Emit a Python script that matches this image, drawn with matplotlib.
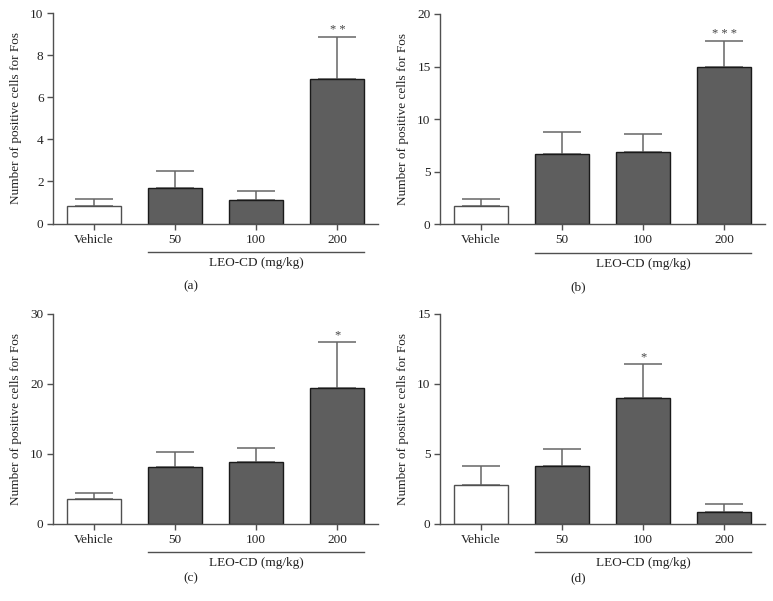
import matplotlib

matplotlib.use("Agg")
import matplotlib.pyplot as plt
import matplotlib.transforms as mtransforms

plt.rcParams["font.family"] = ["Liberation Serif", "DejaVu Serif"]

groups = ["Vehicle", "50", "100", "200"]

means_a = [0.85, 1.71, 1.12, 6.87]
tops_a = [1.19, 2.48, 1.55, 8.88]
means_b = [1.77, 6.72, 6.91, 14.99]
tops_b = [2.44, 8.78, 8.59, 17.46]
means_c = [3.57, 8.10, 8.86, 19.43]
tops_c = [4.38, 10.24, 10.90, 25.95]
means_d = [2.80, 4.16, 8.98, 0.86]
tops_d = [4.14, 5.32, 11.39, 1.40]

stars_a = ["", "", "", "**"]
stars_b = ["", "", "", "***"]
stars_c = ["", "", "", "*"]
stars_d = ["", "", "*", ""]

ymax = [10, 20, 30, 15]
yticks = [[0, 2, 4, 6, 8, 10], [0, 5, 10, 15, 20], [0, 10, 20, 30], [0, 5, 10, 15]]
panel_labels = ["(a)", "(b)", "(c)", "(d)"]
dose_label = "LEO-CD (mg/kg)"
ylabel = "Number of positive cells for Fos"

DARK = "#5e5e5e"
AXC = "#505050"
ERRC = "#666666"
FS = 9.5

fig = plt.figure(figsize=(7.73, 6.01), dpi=100)
rects = [
    [0.0686, 0.628, 0.4204, 0.3503],
    [0.5692, 0.6268, 0.4204, 0.3500],
    [0.0686, 0.1286, 0.4204, 0.3490],
    [0.5692, 0.1286, 0.4204, 0.3490],
]
panels = [
    (means_a, tops_a, stars_a),
    (means_b, tops_b, stars_b),
    (means_c, tops_c, stars_c),
    (means_d, tops_d, stars_d),
]
label_y = [-0.30, -0.30, -0.26, -0.26]

for i, (means, tops, stars) in enumerate(panels):
    ax = fig.add_axes(rects[i])
    xs = list(range(len(groups)))
    errs = [t - m for t, m in zip(tops, means)]
    ax.errorbar(xs, means, yerr=[[0] * 4, errs], fmt="none", ecolor=ERRC,
                elinewidth=1.1, capsize=14, capthick=1.1, zorder=1)
    fills = ["white", DARK, DARK, DARK]
    edges = [AXC, "#1a1a1a", "#1a1a1a", "#1a1a1a"]
    ax.bar(xs, means, width=0.665, color=fills, edgecolor=edges,
           linewidth=1.0, zorder=2)
    for x, t, s in zip(xs, tops, stars):
        if s:
            ax.text(x, t + ymax[i] * 0.003, " ".join(s), ha="center",
                    va="bottom", fontsize=9, color="#444444")

    ax.set_xlim(-0.5, 3.5)
    ax.set_ylim(0, ymax[i])
    ax.set_yticks(yticks[i])
    ax.set_xticks(xs)
    ax.set_xticklabels(groups)
    for side in ("top", "right"):
        ax.spines[side].set_visible(False)
    for side in ("left", "bottom"):
        ax.spines[side].set_color(AXC)
        ax.spines[side].set_linewidth(1.0)
    ax.tick_params(axis="both", colors=AXC, labelcolor="#222222",
                   labelsize=FS, length=4.3, width=1.0)
    ax.tick_params(axis="x", pad=3)
    ax.tick_params(axis="y", pad=2.5)
    ax.set_ylabel(ylabel, fontsize=FS, color="#222222", labelpad=6)

    trans = mtransforms.blended_transform_factory(ax.transData, ax.transAxes)
    ax.plot([1 - 0.3325, 3 + 0.3325], [-0.135, -0.135], color=AXC,
            linewidth=1.0, transform=trans, clip_on=False)
    ax.text(2, -0.188, dose_label, ha="center", va="center", fontsize=FS,
            color="#222222", transform=trans)
    ax.text(0.425, label_y[i], panel_labels[i], ha="center", va="center",
            fontsize=FS, color="#222222", transform=ax.transAxes)

fig.savefig("out.png", dpi=100, facecolor="white")
